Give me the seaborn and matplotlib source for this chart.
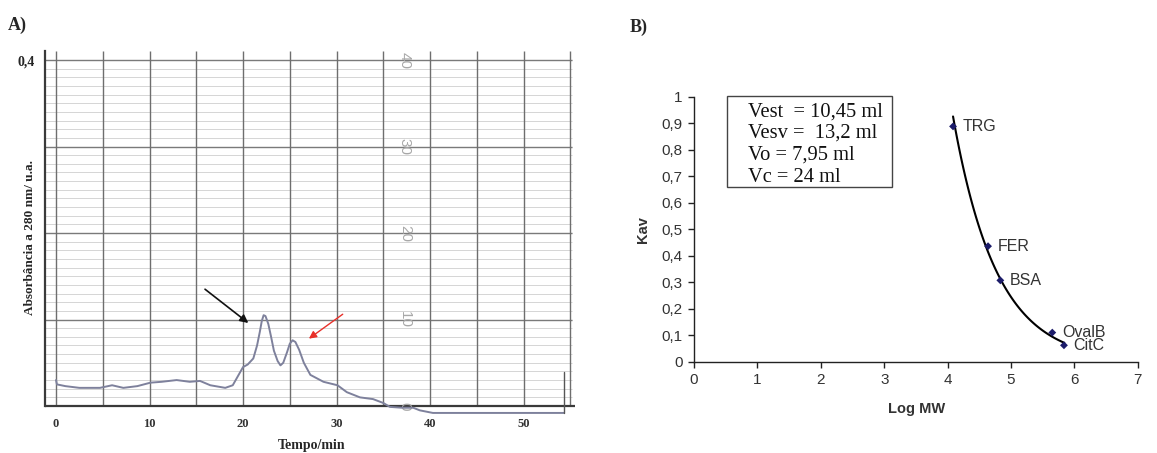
import numpy as np
import matplotlib
matplotlib.use("Agg")
import matplotlib.pyplot as plt
import seaborn as sns
from matplotlib.patches import Rectangle

# ---- panel A: chromatogram (absorbance at 280 nm vs time) ----
time_min = [0.0, 0.1, 1.0, 2.5, 4.7, 6.0, 7.2, 8.7, 10.1, 11.3, 12.9, 14.3, 15.4,
            16.5, 18.1, 18.9, 20.0, 20.5, 21.1, 21.5, 21.8, 22.0, 22.2, 22.4,
            22.7, 23.0, 23.3, 23.7, 24.0, 24.3, 24.7, 25.0, 25.3, 25.6, 26.0,
            26.5, 27.2, 28.6, 30.1, 31.1, 32.5, 33.9, 35.0, 35.7, 37.0, 38.2,
            38.9, 40.3, 54.3]
absorb = [0.030, 0.025, 0.023, 0.021, 0.021, 0.024, 0.021, 0.023, 0.027, 0.028,
          0.030, 0.028, 0.029, 0.024, 0.021, 0.024, 0.045, 0.048, 0.055, 0.070,
          0.086, 0.098, 0.105, 0.104, 0.095, 0.080, 0.064, 0.052, 0.047, 0.050,
          0.062, 0.072, 0.076, 0.074, 0.065, 0.050, 0.036, 0.028, 0.024, 0.016,
          0.010, 0.008, 0.0035, -0.001, -0.002, -0.002, -0.005, -0.008, -0.008]
stop_x = [54.3, 54.3]
stop_y = [-0.008, 0.039]
paper_labels = ["40", "30", "20", "10", "0"]
paper_levels = [0.4, 0.3, 0.2, 0.1, 0.0]
time_ticks = [0, 10, 20, 30, 40, 50]

# ---- panel B: calibration curve ----
proteins = ["TRG", "FER", "BSA", "OvalB", "CitC"]
log_mw = [4.085, 4.637, 4.831, 5.650, 5.834]
kav = [0.889, 0.437, 0.308, 0.111, 0.063]
box_lines = ["Vest  = 10,45 ml", "Vesv =  13,2 ml", "Vo = 7,95 ml", "Vc = 24 ml"]

sns.set_style("white")
plt.rcParams["font.family"] = ["Liberation Sans", "DejaVu Sans"]
serif = ["Liberation Serif", "DejaVu Serif"]

fig = plt.figure(figsize=(11.57, 4.53), dpi=100)

# ================= A =================
axA = fig.add_axes([0.0387, 0.0808, 0.4583, 0.8058])
x0, x1 = -1.2, 55.5
axA.set_xlim(x0, x1)
axA.set_ylim(-0.012, 0.41)

# chart paper grid
minor = np.arange(0.0, 0.41, 0.01)
axA.hlines(minor, x0, 55.2, color="#cfcfcf", lw=0.6, zorder=1)
axA.hlines(np.arange(0.1, 0.41, 0.1), x0, 55.2, color="#7a7a7a", lw=1.0, zorder=1)
axA.vlines(np.arange(0, 56, 5), 0, 0.41, color="#6e6e6e", lw=1.0, zorder=1)
axA.axhline(0, color="#3a3a3a", lw=1.6, zorder=2)

for lab, lev in zip(paper_labels, paper_levels):
    axA.text(37.3, lev, lab, rotation=270, ha="center", va="center",
             fontsize=11, color="#a8a8a8", zorder=2)

sns.lineplot(x=time_min, y=absorb, ax=axA, color="#7e819c", lw=1.4,
             sort=False, estimator=None, zorder=3)
sns.lineplot(x=stop_x, y=stop_y, ax=axA, color="#555555", lw=1.0,
             sort=False, estimator=None, zorder=3)

axA.annotate("", xy=(20.8, 0.094), xytext=(15.7, 0.137),
             arrowprops=dict(arrowstyle="-|>", color="#111111", lw=1.2,
                             mutation_scale=12))
axA.annotate("", xy=(26.8, 0.076), xytext=(30.9, 0.108),
             arrowprops=dict(arrowstyle="-|>", color="#e8302a", lw=1.0,
                             mutation_scale=11))

for s in ["top", "right", "bottom"]:
    axA.spines[s].set_visible(False)
axA.spines["left"].set_color("#3a3a3a")
axA.spines["left"].set_linewidth(1.6)
axA.spines["left"].set_bounds(0, 0.41)

axA.set_xticks(time_ticks)
axA.set_xticklabels([str(t) for t in time_ticks], fontfamily=serif,
                    fontweight="bold", fontsize=9, color="#333333")
axA.set_yticks([0.4])
axA.set_yticklabels(["0,4"], fontfamily=serif, fontweight="bold", fontsize=10)
axA.tick_params(axis="x", length=0, pad=1.5)
axA.tick_params(axis="y", length=0, pad=7)
axA.grid(False)

axA.set_xlabel("Tempo/min", fontfamily=serif, fontweight="bold", fontsize=10)
axA.xaxis.set_label_coords(0.504, -0.063)
axA.set_ylabel("Absorbância a 280 nm/ u.a.", fontfamily=serif,
               fontweight="bold", fontsize=9.5)
axA.yaxis.set_label_coords(-0.017, 0.49)

fig.text(8 / 1157, 1 - 25 / 453, "A)", fontfamily=serif, fontweight="bold",
         fontsize=13, va="center", ha="left")

# ================= B =================
axB = fig.add_axes([0.5998, 0.2009, 0.3837, 0.585])
axB.set_xlim(0, 7)
axB.set_ylim(0, 1)

# exponential trendline through the standards
b, a = np.polyfit(log_mw, np.log(kav), 1)
xs = np.linspace(4.085, 5.84, 120)
sns.lineplot(x=xs, y=np.exp(a + b * xs), ax=axB, color="black", lw=1.5,
             zorder=2)
sns.scatterplot(x=log_mw, y=kav, ax=axB, marker="D", s=16, color="#1c1c6a",
                edgecolor="none", zorder=3)

for name, xv, yv in zip(proteins, log_mw, kav):
    axB.annotate(name, (xv, yv), xytext=(7, 0), textcoords="offset points",
                 va="center", ha="left", fontsize=11.5, color="#333333")

axB.add_patch(Rectangle((0.52, 0.66), 2.60, 0.344, fill=False,
                        edgecolor="#444444", lw=1.0, clip_on=False))
axB.text(0.85, 0.821, "\n".join(box_lines), fontfamily=serif, fontsize=14.8,
         va="center", ha="left", linespacing=1.2, color="#111111")

axB.set_xticks(range(0, 8))
axB.set_yticks(np.arange(0, 1.01, 0.1))
axB.set_yticklabels(["0"] + [f"0,{i}" for i in range(1, 10)] + ["1"])
axB.tick_params(axis="both", labelsize=11, labelcolor="#333333", length=4,
                width=1, color="#222222", direction="out", left=True,
                bottom=True, pad=4)
for s in ["top", "right"]:
    axB.spines[s].set_visible(False)
for s in ["left", "bottom"]:
    axB.spines[s].set_color("#222222")
    axB.spines[s].set_linewidth(1.0)

axB.set_xlabel("Log MW", fontweight="bold", fontsize=10.5, color="#333333")
axB.xaxis.set_label_coords(0.502, -0.15)
axB.set_ylabel("Kav", fontweight="bold", fontsize=10.5, color="#333333")
axB.yaxis.set_label_coords(-0.10, 0.5)

fig.text(630 / 1157, 1 - 27 / 453, "B)", fontfamily=serif, fontweight="bold",
         fontsize=13, va="center", ha="left")

fig.savefig("out.png", dpi=100)
